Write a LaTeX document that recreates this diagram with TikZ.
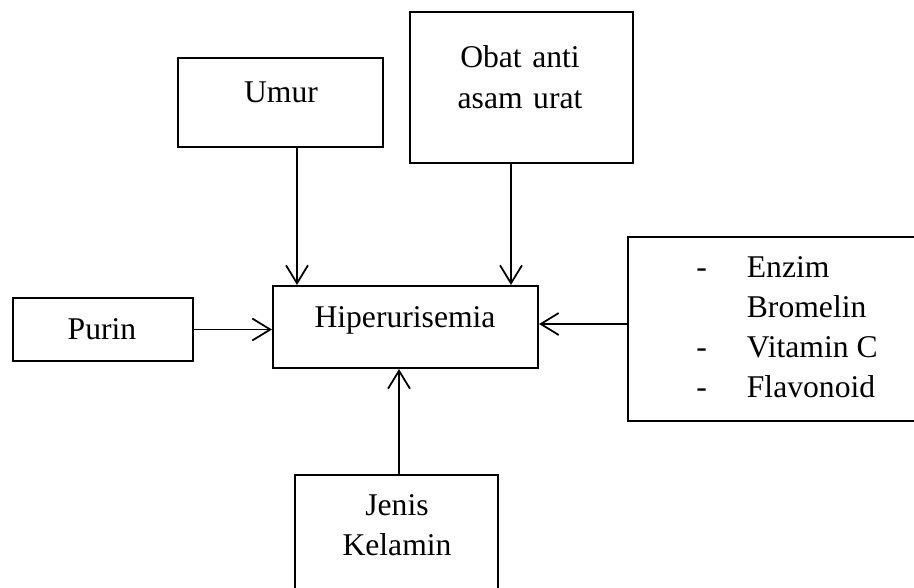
\documentclass[tikz,border=0pt]{standalone}
\usepackage{fontspec}
\setmainfont{Liberation Serif}
\usetikzlibrary{arrows.meta,calc}

\begin{document}
\begin{tikzpicture}[
    kotak/.style={draw, line width=1.2pt, inner sep=0pt},
    teks/.style={inner sep=0pt, font=\fontsize{18}{22.8}\selectfont, align=center, text width=5cm},
    panah/.style={line width=1pt, -{Straight Barb[length=0.36cm,width=0.44cm]}}]
    \path[use as bounding box, clip] (0,0) rectangle (18.28,11.74);
    % kotak
    \node[kotak, minimum width=4.10cm, minimum height=1.78cm] (umur) at (5.61,9.69) {};
    \node[kotak, minimum width=4.46cm, minimum height=3.02cm] (obat) at (10.43,9.99) {};
    \node[kotak, minimum width=5.30cm, minimum height=1.64cm] (hiper) at (8.11,5.20) {};
    \node[kotak, minimum width=3.60cm, minimum height=1.26cm] (purin) at (2.06,5.15) {};
    \node[kotak, minimum width=6.04cm, minimum height=3.68cm] (faktor) at (15.58,5.16) {};
    \node[kotak, minimum width=4.06cm, minimum height=2.50cm] (jenis) at (7.93,0.99) {};
    % teks
    \node[teks, anchor=base] (umurteks) at (5.62,9.68) {Umur};
    \node[teks, anchor=base] (obatteks) at (10.40,10.38) {Obat anti\\asam urat};
    \node[teks, anchor=base] (hiperteks) at (8.10,5.20) {Hiperurisemia};
    \node[teks, anchor=base] (purinteks) at (2.04,4.96) {Purin};
    \node[teks, anchor=base] (jenisteks) at (7.94,1.44) {Jenis\\Kelamin};
    \node[inner sep=0pt, anchor=base west, font=\fontsize{18}{22.8}\selectfont] (faktorteks) at (13.92,6.20)
        {\begin{tabular}[t]{@{}l@{\hspace{0.8cm}}l@{}}
            - & Enzim\\
              & Bromelin\\
            - & Vitamin C\\
            - & Flavonoid
        \end{tabular}};
    % panah
    \draw[panah] ([xshift=0.33cm]umur.south) -- ([xshift=0.33cm]umur.south |- hiper.north);
    \draw[panah] ([xshift=-0.21cm]obat.south) -- ([xshift=-0.21cm]obat.south |- hiper.north);
    \draw[panah] (purin.east) -- (purin.east -| hiper.west);
    \draw[panah] ([yshift=0.1cm]faktor.west) -- ([yshift=0.1cm]faktor.west -| hiper.east);
    \draw[panah] ([xshift=0.05cm]jenis.north) -- ([xshift=0.05cm]jenis.north |- hiper.south);
\end{tikzpicture}
\end{document}
